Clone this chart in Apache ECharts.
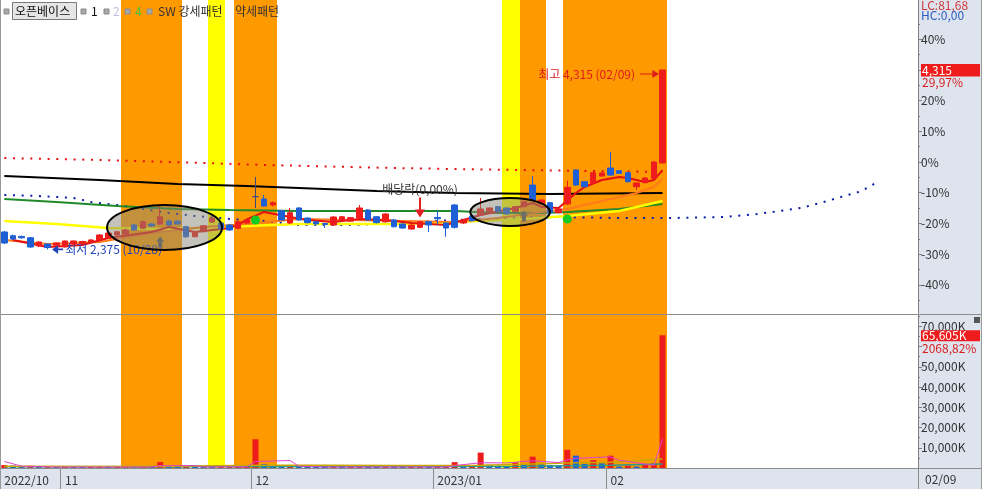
<!DOCTYPE html>
<html><head><meta charset="utf-8">
<script src="https://cdn.jsdelivr.net/npm/echarts@6/dist/echarts.min.js"></script>
<style>html,body{margin:0;padding:0;background:#fff}#c{width:982px;height:489px}</style>
</head><body><div id="c"></div>
<script>
// ---------------- DATA ----------------
const tradeDates = ['10/21','10/24','10/25','10/26','10/27','10/28','10/31',
 '11/01','11/02','11/03','11/04','11/07','11/08','11/09','11/10','11/11','11/14','11/15','11/16','11/17','11/18','11/21','11/22','11/23','11/24','11/25','11/28','11/29','11/30',
 '12/01','12/02','12/05','12/06','12/07','12/08','12/09','12/12','12/13','12/14','12/15','12/16','12/19','12/20','12/21','12/22','12/23','12/26','12/27','12/28','12/29',
 '01/02','01/03','01/04','01/05','01/06','01/09','01/10','01/11','01/12','01/13','01/16','01/17','01/18','01/19','01/20','01/25','01/26','01/27','01/30','01/31',
 '02/01','02/02','02/03','02/06','02/07','02/08','02/09'];
const futureSlots = 29;
const tickIdx = [0, 7, 29, 50, 70];
const tickLabels = ['2022/10', '11', '12', '2023/01', '02'];

const openP  = [2563,2523,2515,2501,2412,2433,2420,2401,2433,2435,2455,2477,2498,2531,2541,2639,2603,2650,2650,2682,2680,2620,2512,2566,2671,2660,2639,2603,2660,2945,2920,2855,2793,2660,2823,2714,2674,2655,2639,2693,2680,2714,2801,2728,2674,2693,2650,2595,2614,2674,2720,2660,2855,2660,2736,2747,2783,2837,2823,2783,2837,3071,2866,2880,2772,2866,3233,3107,3090,3169,3255,3226,3204,3053,3096,3144,3310];
const closeP = [2444,2487,2500,2401,2455,2395,2445,2466,2466,2460,2477,2531,2552,2566,2585,2585,2674,2628,2728,2639,2650,2512,2566,2631,2714,2595,2585,2674,2693,2945,2844,2880,2693,2772,2693,2664,2650,2645,2725,2728,2718,2823,2693,2664,2758,2620,2606,2639,2674,2639,2706,2606,2614,2693,2685,2812,2823,2783,2758,2837,2891,2909,2909,2772,2812,3046,3071,3053,3204,3201,3179,3198,3107,3093,3147,3320,4315];
const lowP   = [2433,2477,2490,2390,2400,2375,2410,2395,2425,2428,2448,2470,2490,2520,2535,2575,2595,2620,2640,2630,2640,2498,2505,2560,2660,2585,2575,2595,2650,2823,2835,2840,2685,2650,2685,2655,2640,2606,2630,2685,2675,2705,2685,2655,2665,2612,2598,2588,2605,2563,2639,2512,2600,2650,2678,2740,2775,2775,2750,2775,2830,2900,2858,2765,2765,2858,3060,3045,3082,3160,3170,3190,3100,3017,3090,3136,3300];
const highP  = [2575,2535,2525,2510,2462,2440,2450,2470,2472,2468,2485,2540,2560,2575,2600,2650,2690,2660,2855,2695,2690,2630,2575,2640,2725,2670,2650,2685,2700,3158,2963,2895,2800,2823,2830,2720,2680,2660,2735,2735,2725,2855,2810,2735,2765,2700,2655,2645,2680,2680,2801,2665,2866,2700,2742,2931,2830,2845,2830,2845,2900,3169,2915,2888,2820,3118,3240,3115,3210,3208,3431,3232,3210,3100,3155,3330,4315];
const volumeK = [1500,1200,800,1100,700,900,600,700,600,500,700,800,600,700,900,700,1000,800,2900,900,700,1200,800,700,600,700,800,900,1100,14200,2000,1200,1000,1200,900,800,700,600,900,700,800,1300,900,700,800,700,600,700,900,800,1000,1100,2900,1000,1200,7600,1500,1200,1000,2800,1800,5600,1800,1500,1300,9000,6100,2000,3900,2300,6100,700,1100,700,1600,2300,65605];

// line readings as [slotIndex, price]
const ma5Line    = [[1,2477],[5,2401],[9,2423],[12,2498],[17,2563],[19,2617],[22,2563],[26,2606],[27,2640],[28,2700],[30,2780],[33,2725],[35,2693],[38,2671],[41,2704],[44,2693],[47,2660],[51,2639],[55,2747],[59,2823],[61,2877],[62,2834],[64,2823],[66,2985],[67,3050],[69,3125],[71,3158],[72,3147],[74,3104],[75,3125],[76,3233]];
const ma20Line   = [[0,2477],[5,2433],[11,2455],[17,2552],[23,2617],[28,2650],[34,2704],[40,2693],[46,2682],[52,2671],[57,2714],[62,2780],[65,2812],[69,2898],[73,2985],[75,3050],[76,3136]];
const yellowLine = [[0,2682],[6,2650],[12,2606],[18,2595],[23,2606],[28,2628],[34,2650],[46,2650],[52,2671],[60,2704],[65,2736],[71,2790],[76,2898]];
const greenLine  = [[0,2920],[6,2888],[13,2844],[20,2812],[26,2801],[34,2790],[52,2790],[57,2769],[62,2769],[65,2780],[71,2812],[76,2866]];
const blackLine  = [[0,3169],[11,3125],[20,3082],[28,3060],[34,3039],[43,3006],[52,2985],[63,2974],[76,2985]];
const redDotLine = [[0,3363],[11,3342],[23,3309],[30,3288],[45,3255],[52,3244],[60,3233],[76,3212]];
const blueDotLine= [[0,2963],[4,2952],[8,2931],[10,2888],[13,2855],[16,2812],[19,2769],[22,2736],[26,2704],[30,2682],[34,2639],[40,2639],[46,2660],[52,2693],[60,2714],[64,2725],[71,2714],[77,2714],[83,2725],[87,2758],[92,2823],[95,2898],[99,3006],[101,3114]];

const volPink  = [[0,3200],[2,900],[6,500],[17,500],[18,1100],[22,1200],[23,500],[28,600],[29,3200],[33,3700],[34,900],[37,500],[51,500],[52,1200],[55,2600],[58,2500],[61,3600],[64,2700],[65,4000],[66,4800],[70,5500],[71,3800],[73,2600],[75,1300],[76,14200]];
const volOlive = [[0,900],[15,800],[30,1400],[37,1300],[45,1200],[55,1400],[60,1800],[65,2500],[70,2800],[76,4500]];
const volTeal  = [[0,600],[30,700],[50,700],[60,900],[70,1300],[76,2000]];

const orangeBands = [[14,20],[27,31],[60,62],[65,76]];
const yellowBands = [[24,25],[58,59]];

// ellipse annotations: [centerSlot, centerPrice, halfWidthSlots, halfHeightPrice]
const ellipses = [[18.5, 2612, 6.64, 243], [58.4, 2779, 4.6, 151]];

const basePrice = 3320;
const pctTicks = [-40,-30,-20,-10,0,10,20,30,40];
const pctMinorTicks = [-45,-35,-25,-15,-5,5,15,25,35,45];
const volTicks = [10000,20000,30000,40000,50000,60000,70000];
const volLabelTicks = [10000,20000,30000,40000,50000,70000];
const volMinorTicks = [5000,15000,25000,35000,45000,55000,65000,75000];
const lastPrice = 4315, lastPct = '29,97%', lastVol = 65605, lastVolPct = '2068,82%';

// ---------------- CHART ----------------
const FONT = "'Noto Sans CJK KR','Noto Sans',sans-serif";
const RED = '#ee1c1c', BLUE = '#1f5fd6';
const ORANGE = '#ff9900', YELLOW = '#ffff00';
const categories = tradeDates.concat(Array.from({length: futureSlots}, (_, k) => '+' + (k + 1)));

const bandRows = orangeBands.map(b => [b[0], b[1], 0]).concat(yellowBands.map(b => [b[0], b[1], 1]));
const candleData = tradeDates.map((d, i) => [openP[i], closeP[i], lowP[i], highP[i]]);
const volData = volumeK.map((v, i) => ({value: v, itemStyle: {color: (i > 0 && v < volumeK[i - 1]) ? BLUE : RED}}));

const pctVals = pctTicks.map(p => basePrice * (1 + p / 100));
const pctMinorVals = pctMinorTicks.map(p => basePrice * (1 + p / 100));
const priceMin = basePrice * (1 - 151 / 307), priceMax = basePrice * (1 + 162 / 307);
const volMax = 76050;

function lineSeries(data, color, width, extra) {
  return Object.assign({type: 'line', xAxisIndex: 1, yAxisIndex: 1, data, symbol: 'none', silent: true,
    lineStyle: {color, width}, z: 3}, extra || {});
}
function volLine(data, color, width) {
  return {type: 'line', xAxisIndex: 2, yAxisIndex: 2, data, symbol: 'none', silent: true, lineStyle: {color, width}, z: 4};
}
const priceAtY = y => basePrice * (1 + (162 - y) / 307);
const axisStyle = {color: '#7f7f7f'};

const option = {
  animation: false,
  textStyle: {fontFamily: FONT},
  grid: [
    {left: 0, top: 0, width: 918, height: 468},
    {left: 0, top: 0, width: 918, height: 313},
    {left: 0, top: 314, width: 918, height: 154}
  ],
  xAxis: [
    {gridIndex: 0, type: 'category', data: categories, show: false, boundaryGap: true},
    {gridIndex: 1, type: 'category', data: categories, show: false, boundaryGap: true},
    {gridIndex: 2, type: 'category', data: categories, boundaryGap: true,
      axisLine: {show: true, lineStyle: {color: '#8c8c8c', width: 1}},
      axisTick: {show: true, length: 21, interval: (i) => tickIdx.includes(i), lineStyle: {color: '#8c8c8c'}},
      axisLabel: {show: true, interval: (i) => tickIdx.includes(i), align: 'left', margin: 6, color: '#333', fontSize: 12, fontFamily: FONT,
        formatter: (v, i) => { const k = tickIdx.indexOf(i); return k >= 0 ? tickLabels[k] : ''; }},
      splitLine: {show: false}}
  ],
  yAxis: [
    {gridIndex: 0, type: 'value', min: 0, max: 1, show: false},
    {gridIndex: 1, type: 'value', position: 'right', min: priceMin, max: priceMax, scale: true,
      axisLine: {show: true, lineStyle: axisStyle},
      axisTick: {show: true, length: 4, customValues: pctVals, lineStyle: axisStyle},
      axisLabel: {show: true, customValues: pctVals, margin: 3, color: '#333', fontSize: 12, fontFamily: FONT,
        formatter: v => Math.round((v / basePrice - 1) * 100) + '%'},
      splitLine: {show: false}},
    {gridIndex: 2, type: 'value', position: 'right', min: 0, max: volMax,
      axisLine: {show: true, lineStyle: axisStyle},
      axisTick: {show: true, length: 4, customValues: volTicks, lineStyle: axisStyle},
      axisLabel: {show: true, customValues: volLabelTicks, margin: 3, color: '#333', fontSize: 12, fontFamily: FONT,
        formatter: v => v.toLocaleString('en-US') + 'K'},
      splitLine: {show: false}},
    {gridIndex: 1, type: 'value', position: 'right', min: priceMin, max: priceMax, scale: true,
      axisLine: {show: false}, axisLabel: {show: false}, splitLine: {show: false},
      axisTick: {show: true, length: 2, customValues: pctMinorVals, lineStyle: axisStyle}},
    {gridIndex: 2, type: 'value', position: 'right', min: 0, max: volMax,
      axisLine: {show: false}, axisLabel: {show: false}, splitLine: {show: false},
      axisTick: {show: true, length: 2, customValues: volMinorTicks, lineStyle: axisStyle}}
  ],
  series: [
    {type: 'custom', xAxisIndex: 0, yAxisIndex: 0, data: bandRows, silent: true, z: 0, clip: false,
      renderItem: (params, api) => {
        const a = api.value(0), b = api.value(1);
        const slot = api.size([1, 0])[0];
        const p1 = api.coord([a, 1]), p2 = api.coord([b, 0]);
        return {type: 'rect', shape: {x: Math.round(p1[0] - slot / 2), y: p1[1], width: Math.round(p2[0] + slot / 2) - Math.round(p1[0] - slot / 2), height: p2[1] - p1[1]},
          style: {fill: api.value(2) ? YELLOW : ORANGE}};
      }},
    lineSeries(redDotLine, '#e81010', 2, {lineStyle: {color: '#e81010', width: 2, type: [2, 6.66]}}),
    lineSeries(blueDotLine, '#0a1aa8', 2, {lineStyle: {color: '#0a1aa8', width: 2, type: [2, 6.66]}}),
    lineSeries(blackLine, '#000000', 2),
    lineSeries(greenLine, '#1f8a2a', 2),
    lineSeries(yellowLine, '#ffff00', 2.5),
    lineSeries(ma20Line, '#ff7a1a', 2),
    lineSeries(ma5Line, '#e41010', 2),
    {type: 'candlestick', xAxisIndex: 1, yAxisIndex: 1, data: candleData, barWidth: 6, z: 5,
      itemStyle: {color: RED, color0: BLUE, borderColor: RED, borderColor0: BLUE, borderColorDoji: '#3a4a80', borderWidth: 1},
      markPoint: {silent: true, animation: false, data: [
        {coord: [5, 2375], symbol: 'path://M0,5 L6,0 L6,4 L11,4 L11,6 L6,6 L6,10 Z', symbolSize: [11, 9], symbolOffset: [10, 0], symbolKeepAspect: false,
          itemStyle: {color: '#2244bb'}, label: {show: true, position: 'right', distance: 2, formatter: '최저 2,375 (10/28)', color: '#2244bb', fontSize: 12, fontFamily: FONT}},
        {coord: [76, lastPrice], symbol: 'path://M0,3.4 L13,3.4 L13,0 L20,4 L13,8 L13,4.6 L0,4.6 Z', symbolSize: [19, 8], symbolOffset: [-13, 4],
          itemStyle: {color: '#e01b1b'}, label: {show: true, position: 'left', distance: 5, formatter: '최고 4,315 (02/09)', color: '#e01b1b', fontSize: 12, fontFamily: FONT}},
        {coord: [48, priceAtY(207.5)], symbol: 'path://M4,0 L6,0 L6,12 L10,12 L5,20 L0,12 L4,12 Z', symbolSize: [10, 20],
          itemStyle: {color: '#e02020'}, label: {show: true, position: 'top', distance: 2, formatter: '배당락(0,00%)', color: '#333', fontSize: 12, fontFamily: FONT}},
        {coord: [29, priceAtY(220)], symbol: 'circle', symbolSize: 9, itemStyle: {color: '#11cc22'}, label: {show: false}},
        {coord: [65, priceAtY(219)], symbol: 'circle', symbolSize: 9, itemStyle: {color: '#11cc22'}, label: {show: false}},
        {coord: [18, priceAtY(242)], symbol: 'path://M4,0 L8,5 L6,5 L6,11 L2,11 L2,5 L0,5 Z', symbolSize: [8, 11], itemStyle: {color: '#555'}, label: {show: false}},
        {coord: [60, priceAtY(216)], symbol: 'path://M4,0 L8,5 L6,5 L6,11 L2,11 L2,5 L0,5 Z', symbolSize: [8, 11], itemStyle: {color: '#555'}, label: {show: false}}
      ]}},
    {type: 'custom', xAxisIndex: 1, yAxisIndex: 1, data: ellipses, z: 6, silent: true, clip: false,
      renderItem: (params, api) => {
        const ci = api.value(0), cp = api.value(1), hw = api.value(2), hh = api.value(3);
        const fi = Math.floor(ci);
        const slot = api.size([1, 0])[0];
        const c = api.coord([fi, cp]);
        const top = api.coord([fi, cp + hh])[1], bot = api.coord([fi, cp - hh])[1];
        return {type: 'ellipse', shape: {cx: c[0] + (ci - fi) * slot, cy: c[1], rx: hw * slot, ry: (bot - top) / 2},
          style: {fill: 'rgba(135,135,120,0.5)', stroke: '#000', lineWidth: 2}};
      }},
    {type: 'bar', xAxisIndex: 2, yAxisIndex: 2, data: volData, barWidth: 6, silent: true, z: 3},
    volLine(volTeal, '#2a9a8a', 1.5),
    volLine(volOlive, '#c8a800', 1.5),
    volLine(volPink, '#e040d0', 1)
  ]
};

const chart = echarts.init(document.getElementById('c'));
chart.setOption(option);

// right-side value flags and static frame
const yLast = chart.convertToPixel({yAxisIndex: 1}, lastPrice);
const yVol = chart.convertToPixel({yAxisIndex: 2}, lastVol);
const T = (x, y, text, color, extra) => Object.assign({type: 'text', x, y, z: 20,
  style: Object.assign({text, fill: color, font: '12px ' + FONT, textVerticalAlign: 'middle'}, extra || {})});
const sq = x => ({type: 'rect', z: 20, shape: {x, y: 9, width: 5, height: 5}, style: {fill: '#a9a9a9', stroke: '#8a8a8a', lineWidth: 1}});
chart.setOption({graphic: [
  {type: 'rect', z: -1, shape: {x: 918, y: 0, width: 64, height: 489}, style: {fill: '#dde4ee'}},
  {type: 'rect', z: -1, shape: {x: 0, y: 468.5, width: 918, height: 21}, style: {fill: '#dde4ee'}},
  {type: 'line', z: 20, shape: {x1: 0, y1: 314.5, x2: 982, y2: 314.5}, style: {stroke: '#8c8c8c', lineWidth: 1}},
  {type: 'line', z: 20, shape: {x1: 918, y1: 468.5, x2: 982, y2: 468.5}, style: {stroke: '#8c8c8c', lineWidth: 1}},
  {type: 'line', z: 20, shape: {x1: 0.5, y1: 0, x2: 0.5, y2: 489}, style: {stroke: '#9a9a9a', lineWidth: 1}},
  {type: 'line', z: 20, shape: {x1: 981.5, y1: 0, x2: 981.5, y2: 489}, style: {stroke: '#9a9a9a', lineWidth: 1}},
  // legend
  sq(4),
  {type: 'rect', z: 20, shape: {x: 12.5, y: 2.5, width: 64, height: 17}, style: {fill: '#e6e6e6', stroke: '#7a7a7a', lineWidth: 1}},
  T(15, 11.5, '오픈베이스', '#111'),
  sq(81), T(91, 11.5, '1', '#111'),
  sq(104), T(113, 11.5, '2', '#c4bce0'),
  sq(125), T(135, 11.5, '4', '#44c444'),
  sq(147), T(158, 11.5, 'SW 강세패턴', '#333'),
  T(235, 11.5, '약세패턴', '#333'),
  // right panel texts
  T(921, 5, 'LC:81,68', '#d03a3a'),
  T(921, 15, 'HC:0,00', '#2a5bc4'),
  {type: 'rect', z: 20, shape: {x: 921, y: yLast - 6, width: 59, height: 12.5}, style: {fill: '#ee1c1c'}},
  T(922, yLast + 0.5, lastPrice.toLocaleString('en-US'), '#fff'),
  T(922, yLast + 12.5, lastPct, '#d82020'),
  {type: 'rect', z: 20, shape: {x: 921, y: yVol - 5, width: 59, height: 11}, style: {fill: '#ee1c1c'}},
  T(922, yVol + 0.5, lastVol.toLocaleString('en-US') + 'K', '#fff'),
  T(922, yVol + 13, lastVolPct, '#d82020'),
  {type: 'rect', z: 20, shape: {x: 974, y: 317, width: 6, height: 6}, style: {fill: '#555'}},
  T(925, 479.5, tradeDates[tradeDates.length - 1], '#333')
]});
</script></body></html>
